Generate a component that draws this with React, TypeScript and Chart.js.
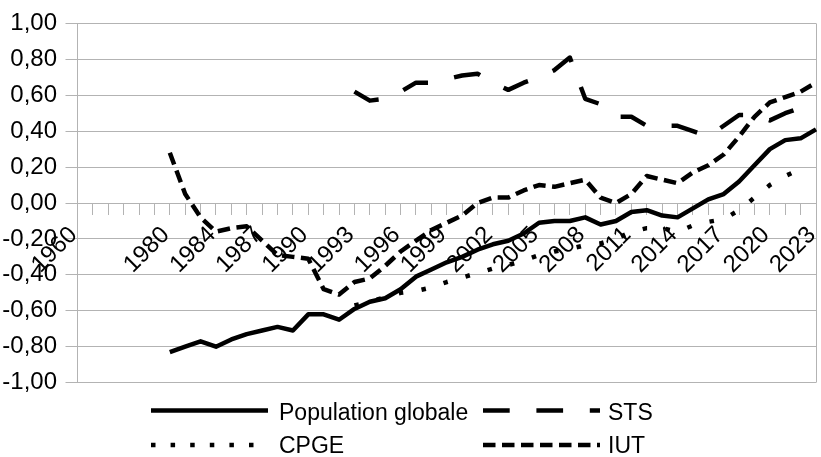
import React, { useEffect, useRef } from "react";
import { Chart, registerables } from "chart.js";

Chart.register(...registerables);

// Categories (x axis); blank entries are unlabeled categories
const categories = [
  "1960", "", "", "", "", "", "1980", "1981", "1982", "1984",
  "1985", "1986", "1987", "1988", "1989", "1990", "1991", "1992", "1993", "1994",
  "1995", "1996", "1997", "1998", "1999", "2000", "2001", "2002", "2003", "2004",
  "2005", "2006", "2007", "2008", "2009", "2010", "2011", "2012", "2013", "2014",
  "2015", "2016", "2017", "2018", "2019", "2020", "2021", "2022", "2023",
];

const populationGlobale = [
  null, null, null, null, null, null, -0.83, -0.80, -0.77, -0.80,
  -0.76, -0.73, -0.71, -0.69, -0.71, -0.62, -0.62, -0.65, -0.59, -0.55,
  -0.53, -0.48, -0.41, -0.37, -0.33, -0.30, -0.26, -0.23, -0.21, -0.17,
  -0.11, -0.10, -0.10, -0.08, -0.12, -0.10, -0.05, -0.04, -0.07, -0.08,
  -0.03, 0.02, 0.05, 0.12, 0.21, 0.30, 0.35, 0.36, 0.41,
];

const sts = [
  null, null, null, null, null, null, null, null, null, null,
  null, null, null, null, null, null, null, null, 0.62, 0.57,
  0.58, 0.62, 0.67, 0.67, 0.69, 0.71, 0.72, 0.67, 0.63, 0.67,
  0.70, 0.74, 0.81, 0.58, 0.55, 0.48, 0.48, 0.43, 0.43, 0.43,
  0.40, 0.37, 0.43, 0.49, 0.49, 0.46, 0.50, 0.53, null,
];

const cpge = [
  null, null, null, null, null, null, null, null, null, null,
  null, null, null, null, null, null, null, null, -0.57, -0.55,
  -0.525, -0.50, -0.49, -0.47, -0.44, -0.415, -0.39, -0.365, -0.345, -0.32,
  -0.29, -0.27, -0.255, -0.235, -0.225, -0.20, -0.16, -0.14, -0.14, -0.16,
  -0.125, -0.105, -0.09, -0.04, 0.03, 0.10, 0.15, 0.19, null,
];

const iut = [
  null, null, null, null, null, null, 0.28, 0.05, -0.08, -0.16,
  -0.14, -0.13, -0.21, -0.29, -0.30, -0.31, -0.48, -0.51, -0.44, -0.42,
  -0.35, -0.27, -0.21, -0.15, -0.11, -0.07, 0.00, 0.03, 0.03, 0.07,
  0.10, 0.09, 0.11, 0.13, 0.03, 0.00, 0.05, 0.15, 0.13, 0.11,
  0.17, 0.21, 0.27, 0.37, 0.48, 0.56, 0.59, 0.62, 0.67,
];

const seriesLabels = ["Population globale", "STS", "CPGE", "IUT"];

const FONT = '"Liberation Sans", Arial, sans-serif';
const FONT_SIZE = 24;
const LEG_FONT_SIZE = 23;
const GRID = "#b3b3b3";

// legend layout (2 x 2 grid)
const LEG_SAMPLE_X = [151, 483];
const LEG_SAMPLE_W = 117;
const LEG_TEXT_X = [279, 608];
const LEG_LINE_Y = [410.5, 445];
const LEG_BASELINE_Y = [419.5, 453];

const gridLegend = {
  id: "gridLegend",
  afterDraw(chart: any) {
    const ctx = chart.ctx;
    ctx.save();
    chart.data.datasets.forEach((ds: any, i: number) => {
      const col = i % 2;
      const row = Math.floor(i / 2);
      ctx.beginPath();
      ctx.setLineDash(ds.legendDash || ds.borderDash || []);
      ctx.lineWidth = ds.borderWidth;
      ctx.strokeStyle = ds.borderColor;
      ctx.lineCap = "butt";
      ctx.moveTo(LEG_SAMPLE_X[col], LEG_LINE_Y[row]);
      ctx.lineTo(LEG_SAMPLE_X[col] + LEG_SAMPLE_W, LEG_LINE_Y[row]);
      ctx.stroke();
      ctx.setLineDash([]);
      ctx.fillStyle = "#000";
      ctx.font = `${LEG_FONT_SIZE}px ${FONT}`;
      ctx.textAlign = "left";
      ctx.textBaseline = "alphabetic";
      ctx.fillText(ds.label, LEG_TEXT_X[col], LEG_BASELINE_Y[row]);
    });
    ctx.restore();
  },
};

export default function App() {
  const canvasRef = useRef<HTMLCanvasElement | null>(null);

  useEffect(() => {
    document.body.style.margin = "0";
    const canvas = canvasRef.current;
    if (!canvas) return;
    const lineCommon = {
      borderColor: "#000",
      backgroundColor: "#000",
      borderWidth: 4.5,
      pointRadius: 0,
      pointHoverRadius: 0,
      fill: false,
      tension: 0,
      borderCapStyle: "butt" as const,
      borderJoinStyle: "round" as const,
    };
    const chart = new Chart(canvas, {
      type: "line",
      data: {
        labels: categories,
        datasets: [
          { ...lineCommon, label: seriesLabels[0], data: populationGlobale, borderDash: [] },
          { ...lineCommon, label: seriesLabels[1], data: sts, borderDash: [26.7, 26.7] },
          { ...lineCommon, label: seriesLabels[2], data: cpge, borderDash: [4.5, 18.5], legendDash: [4.5, 15.1] } as any,
          { ...lineCommon, label: seriesLabels[3], data: iut, borderDash: [12.5, 6.5] },
        ],
      },
      options: {
        animation: false,
        responsive: true,
        maintainAspectRatio: false,
        devicePixelRatio: 1,
        layout: { padding: { left: 0, right: 5, top: 23.4, bottom: 74.4 } },
        plugins: {
          legend: { display: false },
          tooltip: { enabled: false },
          title: { display: false },
        },
        scales: {
          x: {
            type: "category",
            position: { y: 0 } as any,
            offset: false,
            border: { display: true, color: GRID, width: 1 },
            grid: {
              drawOnChartArea: true,
              drawTicks: true,
              tickLength: 11,
              tickColor: GRID,
              color: (c: any) => (c.index === categories.length - 1 ? GRID : "rgba(0,0,0,0)"),
            },
            ticks: {
              autoSkip: false,
              minRotation: 45,
              maxRotation: 45,
              padding: 7,
              labelOffset: -4,
              color: "#000",
              font: { family: FONT, size: FONT_SIZE },
              callback: (_v: any, idx: number) =>
                idx % 3 === 0 && categories[idx] ? categories[idx] : "",
            },
            afterFit: (s: any) => {
              s.paddingLeft = 0;
              s.paddingRight = 0;
            },
          },
          y: {
            min: -1,
            max: 1,
            border: { display: true, color: GRID, width: 1 },
            grid: { color: GRID, tickLength: 12, tickColor: GRID, drawTicks: true },
            ticks: {
              stepSize: 0.2,
              padding: 8.5,
              color: "#000",
              font: { family: FONT, size: FONT_SIZE },
              callback: (v: any) => {
                const n = Math.abs(+v) < 1e-9 ? 0 : +v;
                return n.toFixed(2).replace(".", ",");
              },
            },
            afterFit: (s: any) => {
              s.width = 77.5;
              s.paddingTop = 0;
              s.paddingBottom = 0;
            },
          },
        },
      },
      plugins: [gridLegend],
    });
    return () => chart.destroy();
  }, []);

  return (
    <div style={{ position: "fixed", left: 0, top: 0, width: 821, height: 457, background: "#fff" }}>
      <canvas ref={canvasRef} />
    </div>
  );
}
